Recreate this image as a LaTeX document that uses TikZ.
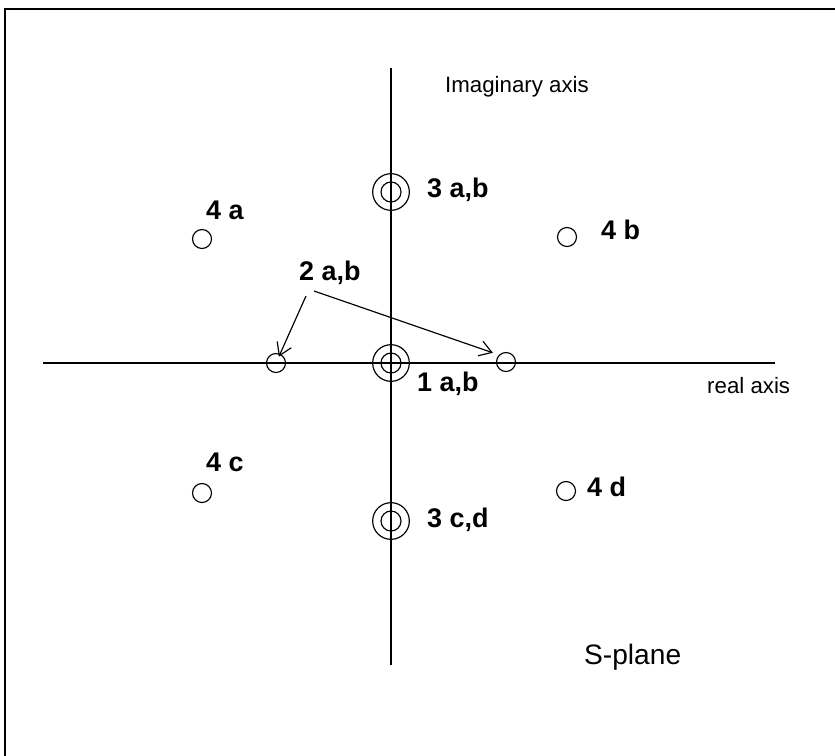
\documentclass[tikz,border=0pt]{standalone}
\usepackage{fontspec}
\setmainfont{Liberation Sans}
\usetikzlibrary{arrows.meta,positioning}
\tikzset{
  pole/.style={circle,draw,line width=1pt,minimum size=5.7mm,inner sep=0pt},
  poleout/.style={circle,draw,line width=1pt,minimum size=11mm,inner sep=0pt},
  polein/.style={circle,draw,line width=1pt,minimum size=6mm,inner sep=0pt},
  lbl/.style={font=\fontsize{23}{27}\selectfont\bfseries,inner sep=0pt,anchor=west},
  axlbl/.style={font=\fontsize{19}{23}\selectfont,inner sep=0pt,anchor=west},
  axisline/.style={line width=0.9pt},
  ptr/.style={-{Straight Barb[length=3.6mm,width=4.6mm]},line width=1pt},
}
\begin{document}
\begin{tikzpicture}[x=0.03cm,y=-0.03cm]
  \useasboundingbox (0,0) rectangle (835,756);
  % frame
  \draw[line width=1.4pt] (5,770) -- (5,9) -- (850,9);
  % axes
  \draw[axisline] (43,363) -- (775,363);
  \draw[axisline] (391,68) -- (391,665);
  \node[axlbl] (imag) at (445,87) {Imaginary axis};
  \node[axlbl] (real) at (707,386) {real axis};
  \node[font=\fontsize{24}{28}\selectfont,inner sep=0pt,anchor=west] (splane) at (584,657) {S-plane};

  % double poles on the imaginary axis
  \node[poleout] (p1o) at (391,363) {};
  \node[polein]  (p1i) at (391,363) {};
  \node[poleout] (p3ao) at (391,192) {};
  \node[polein]  (p3ai) at (391,192) {};
  \node[poleout] (p3co) at (391,521) {};
  \node[polein]  (p3ci) at (391,521) {};

  % single poles
  \node[pole] (p2a) at (276,363) {};
  \node[pole] (p2b) at (506,362) {};
  \node[pole] (p4a) at (202,239) {};
  \node[pole] (p4b) at (567,237) {};
  \node[pole] (p4c) at (202,493) {};
  \node[pole] (p4d) at (566,491) {};

  % labels
  \node[lbl] (l3a) at (427,190) {3 a,b};
  \node[lbl] (l4a) at (206,210) {4 a};
  \node[lbl] (l4b) at (601,230) {4 b};
  \node[lbl] (l2) at (299,273) {2 a,b};
  \node[lbl] (l1) at (417,384) {1 a,b};
  \node[lbl] (l4c) at (206,462) {4 c};
  \node[lbl] (l4d) at (587,487) {4 d};
  \node[lbl] (l3c) at (427,520) {3 c,d};

  \coordinate (a2l) at (306,296);
  \coordinate (a2r) at (314,291);
  \draw[ptr,shorten >=2.1mm] (a2l) -- (p2a.center);
  \draw[ptr,shorten >=1.9mm] (a2r) -- (p2b.north west);
\end{tikzpicture}
\end{document}
